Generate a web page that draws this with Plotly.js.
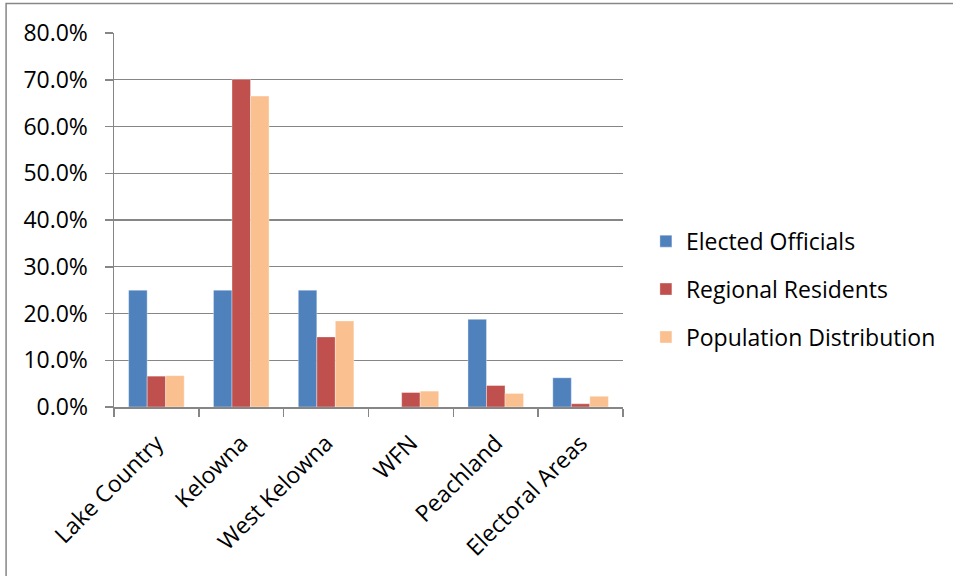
<!DOCTYPE html>
<html>
<head>
<meta charset="utf-8">
<script src="https://cdn.plot.ly/plotly-3.0.1.min.js"></script>
<style>
  html, body { margin: 0; padding: 0; background: #ffffff; }
  #chart { width: 953px; height: 576px; }
</style>
</head>
<body>
<div id="chart"></div>
<script>
// Representation by municipality (shares of the region)
const categories = ["Lake Country", "Kelowna", "West Kelowna", "WFN", "Peachland", "Electoral Areas"];
const electedOfficials = [0.25, 0.25, 0.25, 0.0, 0.1875, 0.0625];
const regionalResidents = [0.066, 0.701, 0.150, 0.031, 0.046, 0.007];
const populationDistribution = [0.067, 0.665, 0.184, 0.034, 0.029, 0.023];
const seriesNames = ["Elected Officials", "Regional Residents", "Population Distribution"];
const seriesColors = ["#4F81BD", "#C0504D", "#FAC090"];
const yTickValues = [0, 0.1, 0.2, 0.3, 0.4, 0.5, 0.6, 0.7, 0.8];

const seriesValues = [electedOfficials, regionalResidents, populationDistribution];
const axisGray = "#868686";
const font = { family: "Open Sans, Liberation Sans, sans-serif", size: 23, color: "#000000" };

const traces = seriesValues.map((vals, i) => ({
  type: "bar",
  name: seriesNames[i],
  x: categories,
  y: vals,
  legendgroup: "g" + i,
  marker: { color: seriesColors[i], line: { color: "rgba(255,255,255,0.45)", width: 0.8 } },
  hoverinfo: "x+y+name"
}));

const layout = {
  width: 953,
  height: 576,
  margin: { l: 114, r: 330, t: 33, b: 169, pad: 0, autoexpand: false },
  paper_bgcolor: "#ffffff",
  plot_bgcolor: "#ffffff",
  font: font,
  barmode: "group",
  bargap: 0.345,
  bargroupgap: 0,
  showlegend: true,
  legend: {
    x: 1.045, xanchor: "left",
    y: 0.315, yanchor: "middle",
    font: font,
    traceorder: "grouped",
    tracegroupgap: 15,
    bgcolor: "rgba(0,0,0,0)"
  },
  xaxis: {
    type: "category",
    tickangle: -45,
    showline: true, linecolor: axisGray, linewidth: 1.5,
    ticks: "outside", tickson: "boundaries", ticklen: 8, tickcolor: axisGray, tickwidth: 1.5,
    ticklabelstandoff: 12,
    showgrid: false,
    tickfont: font,
    fixedrange: true
  },
  yaxis: {
    range: [0, 0.8],
    tickvals: yTickValues,
    tickformat: ".1%",
    showline: true, linecolor: axisGray, linewidth: 1.5,
    ticks: "outside", ticklen: 8, tickcolor: axisGray, tickwidth: 1.5,
    ticklabelstandoff: 12,
    showgrid: true, gridcolor: axisGray, gridwidth: 1.2,
    zeroline: false,
    tickfont: font,
    fixedrange: true
  },
  shapes: [{
    type: "rect", xref: "paper", yref: "paper", layer: "below",
    x0: -0.212, x1: 1.7, y0: -0.5, y1: 1.079,
    line: { color: axisGray, width: 1.5 }, fillcolor: "rgba(0,0,0,0)"
  }]
};

Plotly.newPlot("chart", traces, layout, { displayModeBar: false, staticPlot: true });
</script>
</body>
</html>
